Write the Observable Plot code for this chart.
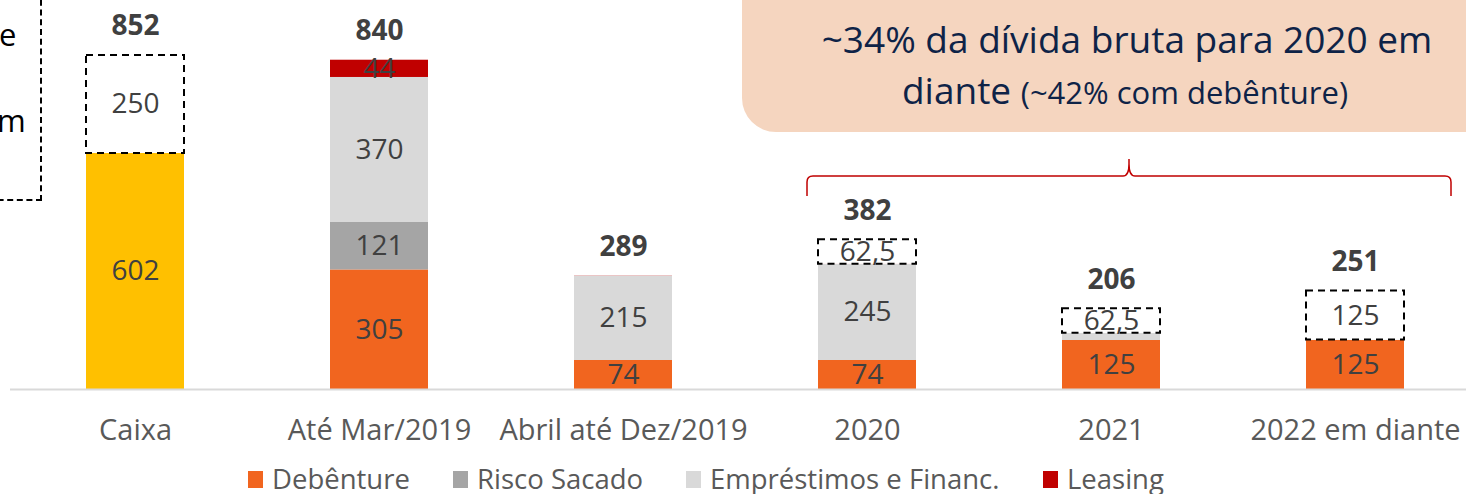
<!DOCTYPE html>
<html>
<head>
<meta charset="utf-8">
<script src="https://cdn.jsdelivr.net/npm/d3@7"></script>
<script src="https://cdn.jsdelivr.net/npm/@observablehq/plot@0.6"></script>
<style>
  html, body { margin: 0; padding: 0; background: #fff; }
  #wrap { position: relative; width: 1466px; height: 494px; overflow: hidden; font-family: 'Open Sans', sans-serif; }
  #peach { position: absolute; left: 742px; top: -40px; width: 800px; height: 172px; background: #F5D5BF; border-radius: 34px; }
  .pt { position: absolute; left: 742px; width: 770px; text-align: center; color: #0E2347; white-space: nowrap; }
  #legend { position: absolute; left: 0; top: 464px; height: 30px; font-size: 27.5px; line-height: 30px; color: #595959; }
  .li { display: flex; align-items: center; position: absolute; top: 0; height: 30px; line-height: 30px; white-space: nowrap; }
  .sw { width: 15px; height: 17px; margin-right: 9px; }
  #leftbox { position: absolute; left: -60px; top: -10px; width: 102px; height: 211px; border: 2px dashed #000; box-sizing: border-box; }
  .lt { position: absolute; font-size: 31px; line-height: 40px; color: #000; }
</style>
</head>
<body>
<div id="wrap">
  <div id="chart"></div>
  <div id="leftbox"></div>
  <div class="lt" style="left:-1px; top:14px;">e</div>
  <div class="lt" style="left:-3px; top:100px;">m</div>
  <div id="peach"></div>
  <div class="pt" style="top:13px; font-size:37px;">~34% da dívida bruta para 2020 em</div>
  <div class="pt" style="top:64px; font-size:37px; left:740px;">diante <span style="font-size:31px">(~42% com debênture)</span></div>
  <div id="legend"></div>
</div>
<script>
const categories = ["Caixa", "Até Mar/2019", "Abril até Dez/2019", "2020", "2021", "2022 em diante"];
const caixa       = [602, 0, 0, 0, 0, 0];
const debenture   = [0, 305, 74, 74, 125, 125];
const riscoSacado = [0, 121, 0, 0, 0, 0];
const emprestimos = [0, 370, 215, 245, 18.5, 1];
const leasing     = [0, 44, 0.5, 0.5, 0, 0];
const adicional   = [250, 0, 0, 62.5, 62.5, 125];
const totals      = [852, 840, 289, 382, 206, 251];

const seriesNames  = ["Caixa", "Debênture", "Risco Sacado", "Empréstimos e Financ.", "Leasing", "Adicional"];
const seriesValues = [caixa, debenture, riscoSacado, emprestimos, leasing, adicional];
const seriesColors = ["#FFC000", "#F1651F", "#A5A5A5", "#D9D9D9", "#C00000", "#FFFFFF"];
const legendNames  = ["Debênture", "Risco Sacado", "Empréstimos e Financ.", "Leasing"];

// build stacked rows
const rows = [];
categories.forEach((cat, i) => {
  let acc = 0;
  seriesNames.forEach((s, j) => {
    const v = seriesValues[j][i];
    if (v > 0) {
      rows.push({cat, series: s, value: v, y1: acc, y2: acc + v});
      acc += v;
    }
  });
});
const solid = rows.filter(d => d.series !== "Adicional");
const dashed = rows.filter(d => d.series === "Adicional");
const labeled = rows.filter(d => d.value >= 30);
const totalRows = categories.map((cat, i) => ({cat, top: d3.sum(seriesValues, a => a[i]), total: totals[i]}));
const fmt = v => String(v).replace(".", ",");

const plot = Plot.plot({
  width: 1466,
  height: 464,
  marginLeft: 10,
  marginRight: 0,
  marginTop: 0,
  marginBottom: 75,
  style: {fontFamily: "'Open Sans', sans-serif", background: "transparent", overflow: "visible"},
  x: {domain: categories, range: [10, 1479], paddingInner: 0.6, paddingOuter: 0.3, label: null},
  y: {domain: [0, 1000], range: [389, -3], axis: null},
  color: {domain: seriesNames, range: seriesColors},
  marks: [
    Plot.barY(solid, {x: "cat", y1: "y1", y2: "y2", fill: "series", inset: 0}),
    Plot.barY(dashed, {x: "cat", y1: "y1", y2: "y2", fill: "white", stroke: "#000", strokeWidth: 2, strokeDasharray: "7,5", inset: 0}),
    Plot.ruleY([0], {stroke: "#D9D9D9", strokeWidth: 2}),
    Plot.text(labeled, {x: "cat", y: d => (d.y1 + d.y2) / 2, text: d => fmt(d.value), fontSize: 28, fill: "#404040"}),
    Plot.text(totalRows, {x: "cat", y: "top", text: d => String(d.total), dy: -29, fontSize: 28, fontWeight: "bold", fill: "#404040"}),
    Plot.axisX({tickSize: 0, tickPadding: 30, fontSize: 29, color: "#595959"})
  ]
});
document.getElementById("chart").appendChild(plot);

// brace annotation spanning 2020 .. 2022 em diante
const xs = plot.scale("x");
const svg = d3.select(plot);
const L = xs.apply("2020") - 11;
const R = xs.apply("2022 em diante") + xs.bandwidth + 47;
const M = (L + R) / 2;
const yb = 176;
svg.append("path")
  .attr("d", `M${L},196 L${L},${yb + 6} Q${L},${yb} ${L + 6},${yb} L${M - 6},${yb} Q${M},${yb} ${M},${yb - 12} L${M},${yb - 17} M${M},${yb - 12} Q${M},${yb} ${M + 6},${yb} L${R - 6},${yb} Q${R},${yb} ${R},${yb + 6} L${R},196`)
  .attr("fill", "none").attr("stroke", "#C00000").attr("stroke-width", 1.5);

// legend
const legend = document.getElementById("legend");
const legendX = [248, 453, 686, 1043];
legendNames.forEach((n, i) => {
  const item = document.createElement("div");
  item.className = "li";
  item.style.left = legendX[i] + "px";
  const sw = document.createElement("div");
  sw.className = "sw";
  sw.style.background = seriesColors[seriesNames.indexOf(n)];
  const t = document.createElement("span");
  t.textContent = n;
  item.appendChild(sw); item.appendChild(t);
  legend.appendChild(item);
});
</script>
</body>
</html>
